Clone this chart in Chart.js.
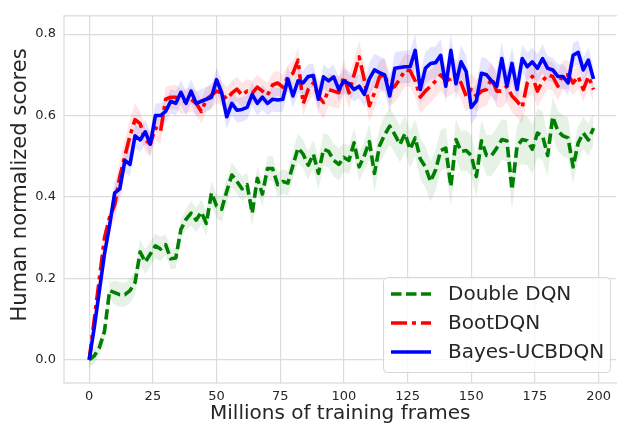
<!DOCTYPE html>
<html>
<head>
<meta charset="utf-8">
<script src="https://cdn.jsdelivr.net/npm/chart.js@4.4.1/dist/chart.umd.min.js"></script>
<style>
  html, body { margin: 0; padding: 0; background: #ffffff; }
  #wrap { position: relative; width: 617px; height: 427px; }
</style>
</head>
<body>
<div id="wrap"><canvas id="chart"></canvas></div>
<script>
// x: millions of training frames
const frames = [
  0, 2, 4, 6, 8, 10, 12, 14, 16, 18, 20, 22, 24, 26, 28, 30, 32, 34, 36, 38,
  40, 42, 44, 46, 48, 50, 52, 54, 56, 58, 60, 62, 64, 66, 68, 70, 72, 74, 76, 78,
  80, 82, 84, 86, 88, 90, 92, 94, 96, 98, 100, 102, 104, 106, 108, 110, 112, 114, 116, 118,
  120, 122, 124, 126, 128, 130, 132, 134, 136, 138, 140, 142, 144, 146, 148, 150, 152, 154, 156, 158,
  160, 162, 164, 166, 168, 170, 172, 174, 176, 178, 180, 182, 184, 186, 188, 190, 192, 194, 196, 198
];

const seriesNames = ["Double DQN", "BootDQN", "Bayes-UCBDQN"];

const doubleDqn = [
  0.00, 0.01, 0.03, 0.07, 0.17, 0.165, 0.16, 0.16, 0.17, 0.19,
  0.265, 0.24, 0.26, 0.28, 0.272, 0.283, 0.248, 0.25, 0.32, 0.345,
  0.36, 0.343, 0.363, 0.335, 0.41, 0.378, 0.37, 0.414, 0.454, 0.438,
  0.42, 0.43, 0.36, 0.446, 0.407, 0.47, 0.47, 0.43, 0.438, 0.434,
  0.478, 0.52, 0.505, 0.478, 0.505, 0.458, 0.517, 0.512, 0.49, 0.48,
  0.497, 0.49, 0.533, 0.474, 0.501, 0.536, 0.458, 0.526, 0.553, 0.574,
  0.553, 0.529, 0.556, 0.517, 0.545, 0.493, 0.474, 0.438, 0.466, 0.514,
  0.52, 0.426, 0.541, 0.512, 0.514, 0.502, 0.45, 0.538, 0.502, 0.502,
  0.52, 0.541, 0.538, 0.418, 0.525, 0.541, 0.538, 0.517, 0.557, 0.55,
  0.502, 0.597, 0.562, 0.55, 0.545, 0.474, 0.533, 0.557, 0.54, 0.569
];

const bootDqn = [
  0.00, 0.10, 0.20, 0.30, 0.35, 0.38, 0.45, 0.50, 0.55, 0.59,
  0.58, 0.54, 0.53, 0.57, 0.56, 0.64, 0.645, 0.645, 0.635, 0.635,
  0.64, 0.63, 0.61, 0.64, 0.65, 0.66, 0.655, 0.64, 0.655, 0.665,
  0.65, 0.66, 0.655, 0.67, 0.66, 0.65, 0.675, 0.68, 0.67, 0.695,
  0.704, 0.736, 0.629, 0.664, 0.68, 0.648, 0.632, 0.664, 0.66, 0.656,
  0.696, 0.656, 0.70, 0.744, 0.688, 0.624, 0.656, 0.696, 0.70, 0.664,
  0.672, 0.69, 0.712, 0.71, 0.685, 0.645, 0.66, 0.672, 0.685, 0.70,
  0.685, 0.69, 0.70, 0.68, 0.648, 0.664, 0.648, 0.66, 0.664, 0.692,
  0.66, 0.66, 0.672, 0.648, 0.635, 0.62, 0.68, 0.696, 0.66, 0.685,
  0.70, 0.696, 0.672, 0.70, 0.70, 0.68, 0.696, 0.664, 0.696, 0.664
];

const bayesUcb = [
  0.00, 0.08, 0.17, 0.26, 0.33, 0.41, 0.42, 0.49, 0.48, 0.55,
  0.54, 0.56, 0.53, 0.60, 0.60, 0.61, 0.635, 0.63, 0.657, 0.63,
  0.66, 0.63, 0.635, 0.64, 0.645, 0.688, 0.656, 0.597, 0.63, 0.613,
  0.615, 0.62, 0.652, 0.63, 0.645, 0.63, 0.64, 0.638, 0.64, 0.69,
  0.648, 0.685, 0.68, 0.696, 0.698, 0.64, 0.695, 0.685, 0.695, 0.664,
  0.685, 0.678, 0.664, 0.672, 0.652, 0.69, 0.712, 0.705, 0.70, 0.648,
  0.716, 0.718, 0.72, 0.72, 0.76, 0.664, 0.716, 0.728, 0.73, 0.748,
  0.672, 0.76, 0.678, 0.732, 0.708, 0.62, 0.636, 0.704, 0.70, 0.685,
  0.672, 0.74, 0.672, 0.728, 0.664, 0.74, 0.72, 0.732, 0.716, 0.74,
  0.716, 0.712, 0.696, 0.696, 0.68, 0.748, 0.755, 0.712, 0.736, 0.69
];

// half-width of the shaded band, one value per 10M frames
const doubleDqnSpread = [0.02, 0.03, 0.03, 0.025, 0.03, 0.03, 0.03, 0.03, 0.035, 0.04, 0.035, 0.045, 0.045, 0.05, 0.05, 0.05, 0.05, 0.06, 0.05, 0.04];
const bootDqnSpread   = [0.02, 0.04, 0.03, 0.03, 0.03, 0.03, 0.03, 0.03, 0.03, 0.04, 0.04, 0.04, 0.04, 0.04, 0.04, 0.04, 0.04, 0.04, 0.035, 0.03];
const bayesUcbSpread  = [0.02, 0.03, 0.03, 0.03, 0.03, 0.03, 0.03, 0.03, 0.03, 0.03, 0.03, 0.04, 0.04, 0.04, 0.04, 0.04, 0.04, 0.035, 0.03, 0.03];

const xTicks = [0, 25, 50, 75, 100, 125, 150, 175, 200];
const yTicks = [0.0, 0.2, 0.4, 0.6, 0.8];
const yTitle = "Human normalized scores";

const C = {
  green: "#008000",
  red: "#ff0000",
  blue: "#0000ff",
  greenBand: "rgba(0,128,0,0.10)",
  redBand: "rgba(255,0,0,0.10)",
  blueBand: "rgba(0,0,255,0.10)",
  grid: "#dcdcdc",
  text: "#262626",
};
const FONT = "'DejaVu Sans', sans-serif";
const LW = 3.6;

const pts = (ys) => frames.map((x, i) => ({ x, y: ys[i] }));
const band = (ys, spread, sign) => frames.map((x, i) => ({ x, y: ys[i] + sign * spread[Math.floor(i / 5)] }));

const lineStyles = [
  { color: C.green, dash: [10.5, 4.5] },
  { color: C.red, dash: [16, 5, 4, 5] },
  { color: C.blue, dash: [] },
];

function lineDs(label, ys, style, order) {
  return {
    label, data: pts(ys), borderColor: style.color, borderWidth: LW,
    borderDash: style.dash, pointRadius: 0, tension: 0, fill: false, order,
    borderJoinStyle: "round",
  };
}
function bandDs(ys, spread, sign, color, fillTarget, order) {
  return {
    label: "_band", data: band(ys, spread, sign), borderWidth: 0, borderColor: "rgba(0,0,0,0)",
    backgroundColor: color, pointRadius: 0, tension: 0, fill: fillTarget, order,
  };
}

// legend in the lower right of the plot area, plus the rotated y title
const legendBox = {
  id: "legendBox",
  afterDraw(chart) {
    const ctx = chart.ctx;
    const x = 383, y = 277, w = 227, h = 95, r = 4;
    ctx.save();
    ctx.beginPath();
    ctx.roundRect(x + 0.5, y + 0.5, w, h, r);
    ctx.fillStyle = "rgba(255,255,255,0.8)";
    ctx.fill();
    ctx.strokeStyle = "#d6d6d6";
    ctx.lineWidth = 1;
    ctx.stroke();
    const rows = [294, 323, 352];
    ctx.font = "20px " + FONT;
    ctx.textBaseline = "middle";
    ctx.textAlign = "left";
    rows.forEach((ry, i) => {
      ctx.beginPath();
      ctx.setLineDash(lineStyles[i].dash);
      ctx.strokeStyle = lineStyles[i].color;
      ctx.lineWidth = LW;
      ctx.moveTo(391, ry);
      ctx.lineTo(431, ry);
      ctx.stroke();
      ctx.setLineDash([]);
      ctx.fillStyle = C.text;
      ctx.fillText(seriesNames[i], 448, ry + 1);
    });

    ctx.translate(21, 185);
    ctx.rotate(-Math.PI / 2);
    ctx.textAlign = "center";
    ctx.font = "21px " + FONT;
    ctx.fillText(yTitle, 0, 0);
    ctx.restore();
  },
};

// light frame round the plot area
const frameBox = {
  id: "frameBox",
  beforeDatasetsDraw(chart) {
    const { ctx, chartArea: a } = chart;
    ctx.save();
    ctx.strokeStyle = C.grid;
    ctx.lineWidth = 1.3;
    ctx.strokeRect(a.left, a.top, a.right - a.left + 2, a.bottom - a.top);
    ctx.restore();
  },
};

new Chart(document.getElementById("chart"), {
  type: "line",
  data: {
    datasets: [
      lineDs(seriesNames[0], doubleDqn, lineStyles[0], 2),
      lineDs(seriesNames[1], bootDqn, lineStyles[1], 1),
      lineDs(seriesNames[2], bayesUcb, lineStyles[2], 0),
      bandDs(doubleDqn, doubleDqnSpread, 1, C.greenBand, 4, 5),
      bandDs(doubleDqn, doubleDqnSpread, -1, C.greenBand, false, 5),
      bandDs(bootDqn, bootDqnSpread, 1, C.redBand, 6, 4),
      bandDs(bootDqn, bootDqnSpread, -1, C.redBand, false, 4),
      bandDs(bayesUcb, bayesUcbSpread, 1, C.blueBand, 8, 3),
      bandDs(bayesUcb, bayesUcbSpread, -1, C.blueBand, false, 3),
    ],
  },
  options: {
    responsive: true,
    maintainAspectRatio: false,
    animation: false,
    layout: { padding: { top: 4, right: 0, left: 0, bottom: 0 } },
    plugins: { legend: { display: false }, tooltip: { enabled: false } },
    scales: {
      x: {
        type: "linear",
        min: -9.9,
        max: 207,
        afterBuildTicks: (s) => { s.ticks = xTicks.map((v) => ({ value: v })); },
        afterFit: (s) => { s.height = 44; },
        grid: { color: C.grid, lineWidth: 1.2, drawTicks: false },
        border: { display: false },
        ticks: {
          color: C.text, font: { family: FONT, size: 13 }, padding: 6,
          autoSkip: false, maxRotation: 0, callback: (v) => String(v),
        },
        title: {
          display: true, text: "Millions of training frames", color: C.text,
          font: { family: FONT, size: 20 }, padding: { top: 0, bottom: 1 },
        },
      },
      y: {
        min: -0.057,
        max: 0.845,
        afterBuildTicks: (s) => { s.ticks = yTicks.map((v) => ({ value: v })); },
        afterFit: (s) => { s.width = 64; },
        grid: { color: C.grid, lineWidth: 1.2, drawTicks: false },
        border: { display: false },
        ticks: {
          color: C.text, font: { family: FONT, size: 13 }, padding: 8,
          autoSkip: false, callback: (v) => v.toFixed(1),
        },
        title: { display: false },
      },
    },
  },
  plugins: [frameBox, legendBox],
});
</script>
</body>
</html>
